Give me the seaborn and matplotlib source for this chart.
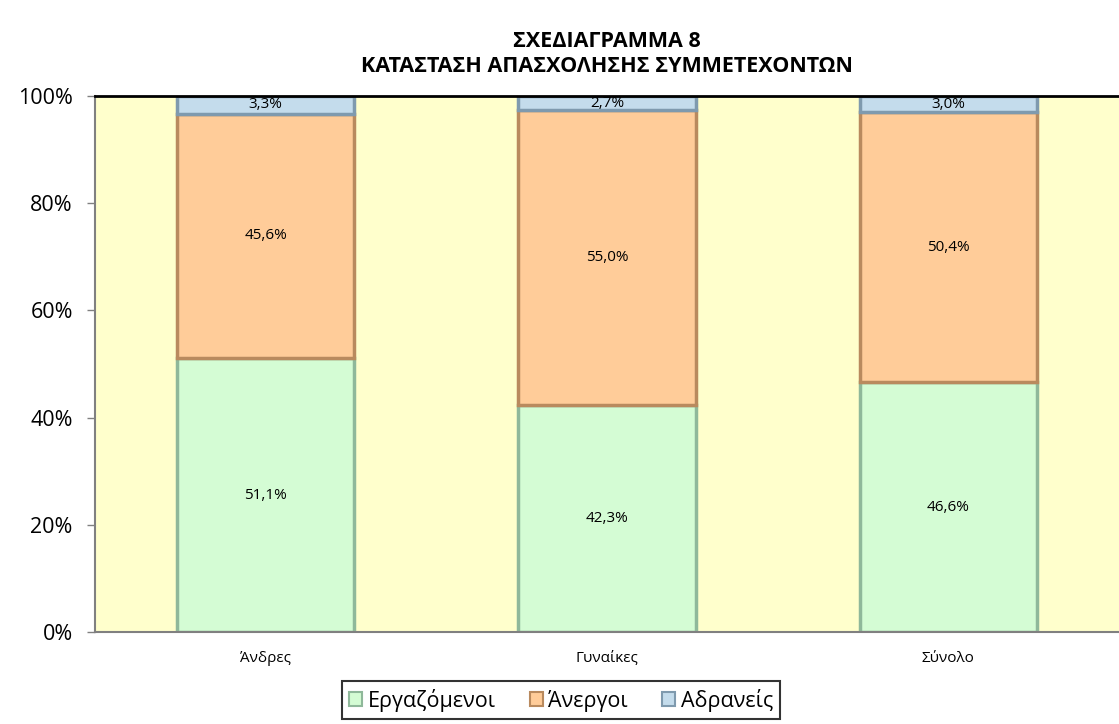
import numpy as np
import pandas as pd
import matplotlib
matplotlib.use("Agg")
import matplotlib.pyplot as plt
import seaborn as sns
from matplotlib.patches import Patch

categories = ["Άνδρες", "Γυναίκες", "Σύνολο"]
series_names = ["Εργαζόμενοι", "Άνεργοι", "Αδρανείς"]
employed = [51.1, 42.3, 46.6]
unemployed = [45.6, 55.0, 50.4]
inactive = [3.3, 2.7, 3.0]

colors = ["#d4fcd4", "#ffcc99", "#c4dcec"]
edges = ["#8fb89a", "#b98a5e", "#7f9aae"]

sns.set_theme(style="white")
plt.rcParams["font.family"] = ["Open Sans", "DejaVu Sans"]
plt.rcParams["text.color"] = "black"
plt.rcParams["xtick.labelcolor"] = "black"
plt.rcParams["ytick.labelcolor"] = "black"

fig = plt.figure(figsize=(11.19, 7.24), dpi=100)
ax = fig.add_axes([95 / 1119, 92 / 724, 1024 / 1119, 536 / 724])
ax.set_facecolor("#ffffcc")

df = pd.DataFrame({"cat": categories, series_names[0]: employed,
                   series_names[1]: unemployed, series_names[2]: inactive})

bottom = np.zeros(len(categories))
for name, c, ec in zip(series_names, colors, edges):
    sns.barplot(data=df, x="cat", y=name, bottom=bottom, color=c, width=0.52,
                edgecolor=ec, linewidth=2.5, saturation=1, ax=ax)
    for i, v in enumerate(df[name]):
        ax.text(i, bottom[i] + v / 2, f"{v:.1f}%".replace(".", ","),
                ha="center", va="center", fontsize=11, color="black")
    bottom = bottom + df[name].values

ax.set_xlim(-0.5, 2.5)
ax.set_ylim(0, 100)
ax.set_yticks(range(0, 101, 20))
ax.set_yticklabels([f"{t}%" for t in range(0, 101, 20)], fontsize=15.5)
ax.set_xticks(range(3))
ax.set_xticklabels(categories, fontsize=11)
ax.set_xticks([-0.5, 0.5, 1.5, 2.5], minor=True)
ax.tick_params(axis="x", which="major", length=0, pad=14)
ax.tick_params(axis="x", which="minor", length=6, width=1, color="#808080", direction="out")
ax.tick_params(axis="y", length=6, width=1, color="#808080", direction="out", left=True, pad=10)
ax.set_xlabel("")
ax.set_ylabel("")

for s in ["left", "bottom"]:
    ax.spines[s].set_color("#808080")
    ax.spines[s].set_linewidth(1.5)
ax.spines["top"].set_color("black")
ax.spines["top"].set_linewidth(2)
ax.spines["right"].set_visible(False)

fig.text(607 / 1119, 1 - 54 / 724, "ΣΧΕΔΙΑΓΡΑΜΜΑ 8\nΚΑΤΑΣΤΑΣΗ ΑΠΑΣΧΟΛΗΣΗΣ ΣΥΜΜΕΤΕΧΟΝΤΩΝ",
         ha="center", va="center", fontsize=15.5, fontweight="bold", linespacing=1.25)

handles = [Patch(facecolor=c, edgecolor=ec, linewidth=1.5) for c, ec in zip(colors, edges)]
leg = fig.legend(handles, series_names, loc="center", bbox_to_anchor=(561 / 1119, 1 - 700 / 724),
                 ncol=3, fontsize=15.5, frameon=True, fancybox=False, handlelength=0.6,
                 handleheight=0.6, handletextpad=0.25, columnspacing=1.6, borderpad=0.35,
                 borderaxespad=0)
leg.get_frame().set_edgecolor("black")
leg.get_frame().set_linewidth(1.5)

fig.savefig("out.png", dpi=100)
